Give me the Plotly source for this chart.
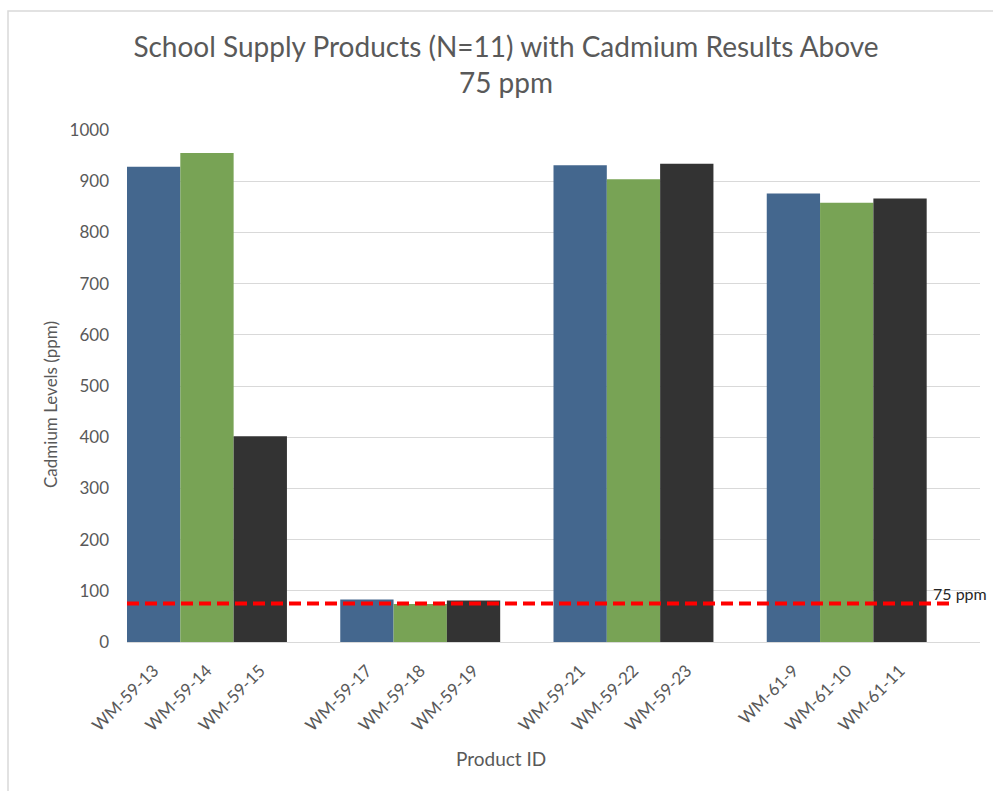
import plotly.graph_objects as go

# ---- data ----
groups = [
    ["WM-59-13", "WM-59-14", "WM-59-15"],
    ["WM-59-17", "WM-59-18", "WM-59-19"],
    ["WM-59-21", "WM-59-22", "WM-59-23"],
    ["WM-61-9", "WM-61-10", "WM-61-11"],
]
values = [
    [928, 955, 402],
    [83, 74, 81],
    [931, 904, 934],
    [876, 858, 866],
]
series_colors = ["#44678E", "#78A355", "#333333"]
threshold = 75
threshold_label = "75 ppm"
y_ticks = [0, 100, 200, 300, 400, 500, 600, 700, 800, 900, 1000]
title_text = "School Supply Products (N=11) with Cadmium Results Above<br>75 ppm"
x_title = "Product ID"
y_title = "Cadmium Levels (ppm)"

FONT = "Lato"
GREY = "#595959"
W, H = 993, 791
L, R, T, B = 127, 13, 130, 149

# slot positions: each group takes 3 slots followed by one empty slot
xs, ys, cs, labels = [], [], [], []
for gi, (names, vals) in enumerate(zip(groups, values)):
    for bi, (n, v) in enumerate(zip(names, vals)):
        xs.append(gi * 4 + bi)
        ys.append(v)
        cs.append(series_colors[bi])
        labels.append(n)
n_slots = len(groups) * 4

fig = go.Figure()
fig.add_trace(go.Bar(
    x=xs, y=ys, width=1.0,
    marker=dict(color=cs, line=dict(width=0)),
    showlegend=False, hoverinfo="x+y",
))
fig.add_trace(go.Scatter(
    x=[-0.5, n_slots - 1.05], y=[threshold, threshold],
    mode="lines",
    line=dict(color="#FF0000", width=4, dash="12px,6px"),
    showlegend=False, hoverinfo="skip",
))
fig.add_annotation(
    x=n_slots - 1.42, y=threshold, xref="x", yref="y",
    text=threshold_label, showarrow=False,
    xanchor="left", yanchor="middle", yshift=10,
    font=dict(family=FONT, size=16, color="#262626"),
)
# axis titles (positioned like the original, centred on the chart area)
fig.add_annotation(
    x=501 / W, y=1 - 758 / H, xref="paper", yref="paper",
    text=x_title, showarrow=False, xanchor="center", yanchor="middle",
    font=dict(family=FONT, size=19, color=GREY),
)
fig.add_annotation(
    x=50 / W, y=1 - 405 / H, xref="paper", yref="paper",
    text=y_title, showarrow=False, textangle=-90,
    xanchor="center", yanchor="middle",
    font=dict(family=FONT, size=17, color=GREY),
)
# convert pixel-based annotation positions to paper coords
for a in fig.layout.annotations[1:]:
    a.x = (a.x * W - L) / (W - L - R)
    a.y = ((a.y * H) - B) / (H - T - B)

fig.update_layout(
    width=W, height=H,
    paper_bgcolor="white", plot_bgcolor="white",
    margin=dict(l=L, r=R, t=T, b=B),
    font=dict(family=FONT, color=GREY),
    title=dict(
        text=title_text,
        x=506 / W, xref="container", xanchor="center",
        y=1 - 57 / H, yref="container", yanchor="top",
        font=dict(family=FONT, size=28, color=GREY),
    ),
    xaxis=dict(
        range=[-0.5, n_slots - 0.5],
        tickmode="array", tickvals=xs, ticktext=labels,
        tickangle=-45, tickfont=dict(family=FONT, size=17, color=GREY),
        showgrid=False, zeroline=False,
        showline=True, linecolor="#D9D9D9", linewidth=1,
        ticks="", ticklabelstandoff=11,
    ),
    yaxis=dict(
        range=[0, 1000], tickmode="array", tickvals=y_ticks,
        tickfont=dict(family=FONT, size=17, color=GREY),
        showgrid=True, gridcolor="#D9D9D9", gridwidth=1,
        zeroline=False, showline=False, ticks="", ticklabelstandoff=17,
    ),
    shapes=[dict(
        type="rect", xref="paper", yref="paper",
        x0=-119 / 853, x1=1.2, y0=-1.0, y1=1 + 119 / 512,
        line=dict(color="#D9D9D9", width=1.5), fillcolor="rgba(0,0,0,0)", layer="below",
    )],
)

fig.write_html("out.html")
